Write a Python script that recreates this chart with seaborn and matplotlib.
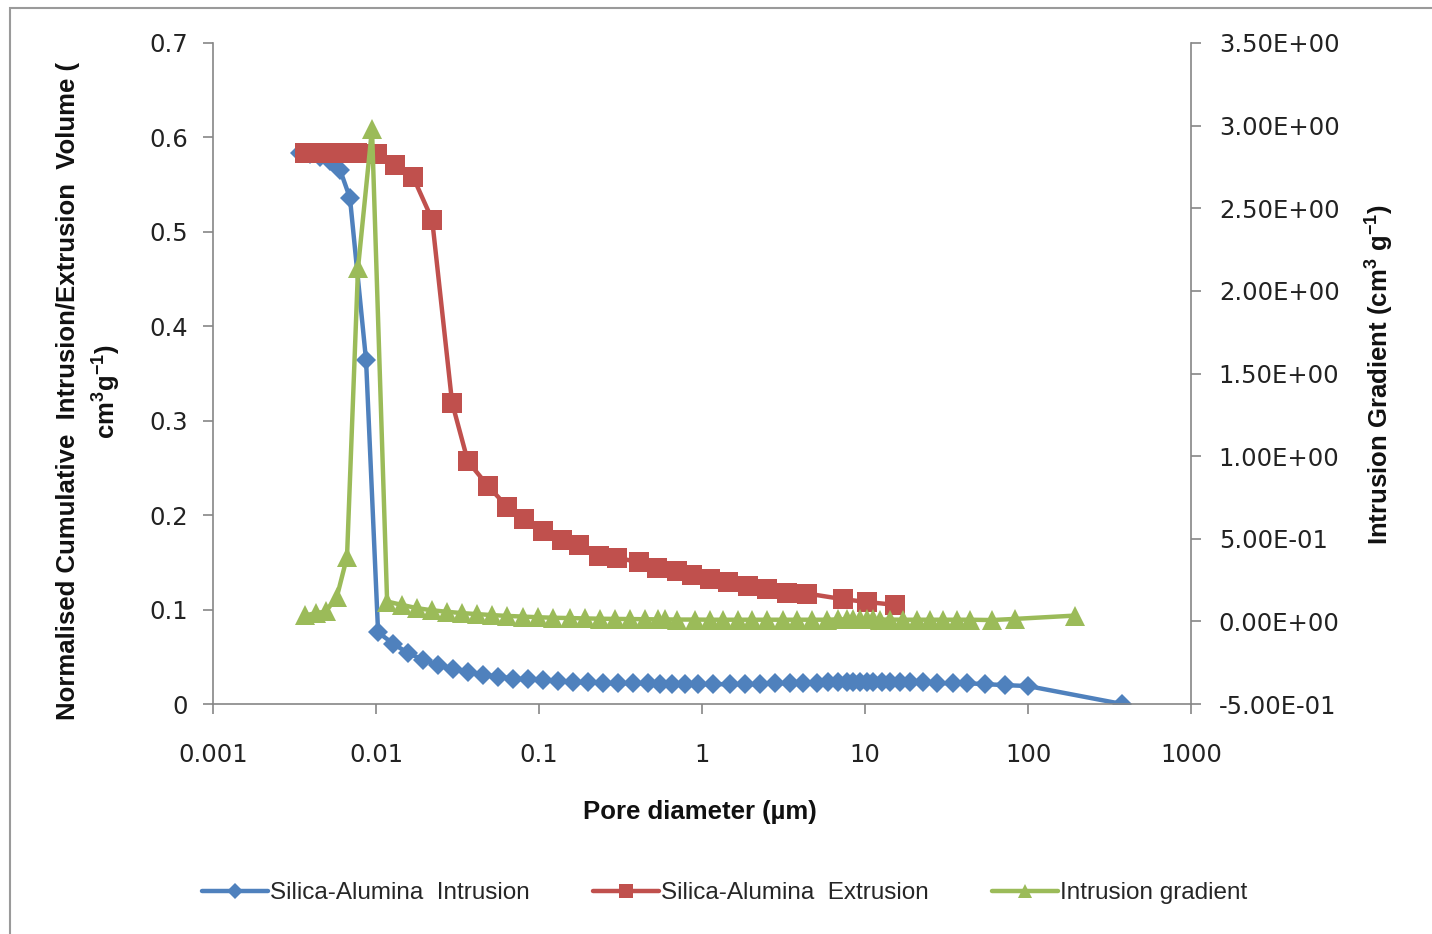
import matplotlib
matplotlib.use("Agg")
import matplotlib.pyplot as plt
import seaborn as sns
import pandas as pd
from matplotlib.lines import Line2D
from matplotlib.patches import Rectangle
from matplotlib.ticker import FuncFormatter, FixedLocator, NullLocator

# ---------------- data ----------------
intr_d = [0.00342, 0.00394, 0.00453, 0.00522, 0.00601, 0.00692, 0.00869, 0.0103, 0.0127, 0.0157,
          0.0194, 0.0240, 0.0296, 0.0366, 0.0453, 0.0560, 0.0692, 0.0856, 0.106, 0.131,
          0.162, 0.200, 0.247, 0.305, 0.377, 0.467, 0.552, 0.654, 0.787, 0.945,
          1.17, 1.48, 1.84, 2.27, 2.81, 3.47, 4.17, 5.08, 5.93, 6.83,
          7.76, 8.44, 9.31, 10.3, 11.2, 12.7, 14.2, 16.4, 18.9, 22.7,
          27.7, 34.7, 42.3, 54.5, 72.3, 100.0, 378.0]
intr_v = [0.584, 0.582, 0.579, 0.575, 0.566, 0.536, 0.364, 0.076, 0.064, 0.054,
          0.047, 0.041, 0.037, 0.034, 0.031, 0.029, 0.027, 0.026, 0.025, 0.024,
          0.023, 0.023, 0.022, 0.022, 0.022, 0.022, 0.021, 0.021, 0.021, 0.021,
          0.021, 0.021, 0.021, 0.021, 0.022, 0.022, 0.022, 0.022, 0.023, 0.023,
          0.023, 0.023, 0.023, 0.023, 0.023, 0.023, 0.023, 0.023, 0.023, 0.023,
          0.022, 0.022, 0.022, 0.021, 0.020, 0.019, 0.0]

extr_d = [0.00367, 0.00422, 0.00487, 0.00560, 0.00645, 0.00764, 0.0101, 0.0131, 0.0169, 0.0221,
          0.0293, 0.0366, 0.0486, 0.0637, 0.0809, 0.106, 0.138, 0.176, 0.233, 0.301,
          0.411, 0.530, 0.703, 0.869, 1.12, 1.44, 1.92, 2.51, 3.32, 4.41,
          7.32, 10.3, 15.3]
extr_v = [0.584, 0.584, 0.584, 0.584, 0.584, 0.584, 0.582, 0.571, 0.558, 0.513,
          0.319, 0.257, 0.231, 0.209, 0.196, 0.183, 0.174, 0.168, 0.157, 0.155,
          0.150, 0.144, 0.141, 0.137, 0.132, 0.129, 0.125, 0.122, 0.118, 0.117,
          0.111, 0.108, 0.105]

grad_d = [0.00367, 0.00429, 0.00493, 0.00576, 0.00664, 0.00776, 0.00945, 0.0117, 0.0144, 0.0178,
          0.0221, 0.0273, 0.0337, 0.0417, 0.0515, 0.0637, 0.0798, 0.0986, 0.122, 0.155,
          0.191, 0.237, 0.292, 0.361, 0.447, 0.537, 0.593, 0.703, 0.906, 1.12,
          1.35, 1.66, 2.03, 2.51, 3.14, 3.83, 4.73, 5.85, 6.83, 7.76,
          8.44, 9.31, 10.3, 11.2, 12.4, 14.2, 17.1, 20.8, 25.1, 30.1,
          36.7, 44.1, 60.1, 83.2, 194.0]
grad_v = [0.036, 0.05, 0.06, 0.15, 0.39, 2.14, 2.98, 0.12, 0.10, 0.08,
          0.067, 0.058, 0.05, 0.044, 0.038, 0.033, 0.029, 0.025, 0.022, 0.02,
          0.018, 0.016, 0.015, 0.014, 0.013, 0.012, 0.012, 0.011, 0.011, 0.01,
          0.01, 0.01, 0.01, 0.01, 0.01, 0.01, 0.01, 0.01, 0.012, 0.012,
          0.012, 0.012, 0.012, 0.012, 0.011, 0.011, 0.01, 0.01, 0.01, 0.01,
          0.01, 0.01, 0.008, 0.015, 0.035]

x_ticks = [0.001, 0.01, 0.1, 1, 10, 100, 1000]
x_tick_labels = ["0.001", "0.01", "0.1", "1", "10", "100", "1000"]
left_ticks = [0, 0.1, 0.2, 0.3, 0.4, 0.5, 0.6, 0.7]
right_ticks = [-0.5, 0, 0.5, 1.0, 1.5, 2.0, 2.5, 3.0, 3.5]

names = ["Silica-Alumina  Intrusion", "Silica-Alumina  Extrusion", "Intrusion gradient"]
BLUE, RED, GREEN = "#4F81BD", "#C0504D", "#9BBB59"
GRAY = "#868686"

df_i = pd.DataFrame({"d": intr_d, "v": intr_v})
df_e = pd.DataFrame({"d": extr_d, "v": extr_v})
df_g = pd.DataFrame({"d": grad_d, "v": grad_v})

# ---------------- figure ----------------
sns.set_style("white")
plt.rcParams["font.family"] = ["DejaVu Sans"]
plt.rcParams["mathtext.fontset"] = "custom"
plt.rcParams["mathtext.rm"] = "Liberation Sans:bold"
plt.rcParams["mathtext.it"] = "Liberation Sans:bold"
plt.rcParams["mathtext.bf"] = "Liberation Sans:bold"

W, H = 1432, 934
fig = plt.figure(figsize=(W / 100, H / 100), dpi=100)
L, R, T, B = 213, 1191, 43, 704
ax = fig.add_axes([L / W, 1 - B / H, (R - L) / W, (B - T) / H])
ax2 = ax.twinx()

# frame around chart
fig.patches.append(Rectangle((10 / W, -0.1), 1.2, 1 - 8 / H + 0.1, transform=fig.transFigure,
                             fill=False, edgecolor="#9a9a9a", lw=1.5))

sns.lineplot(data=df_i, x="d", y="v", ax=ax, sort=False, estimator=None, color=BLUE, lw=3.2,
             marker="D", markersize=10.5, markeredgewidth=0, zorder=2)
sns.lineplot(data=df_e, x="d", y="v", ax=ax, sort=False, estimator=None, color=RED, lw=3.2,
             marker="s", markersize=15, markeredgewidth=0, zorder=3)
sns.lineplot(data=df_g, x="d", y="v", ax=ax2, sort=False, estimator=None, color=GREEN, lw=3.2,
             marker="^", markersize=14, markeredgewidth=0, zorder=3)

for a in (ax, ax2):
    a.set_xscale("log")
    a.set_xlim(0.001, 1000)
    a.set_xlabel("")
    a.set_ylabel("")
    for s in a.spines.values():
        s.set_color(GRAY)
        s.set_linewidth(1.2)
    a.spines["top"].set_visible(False)

ax.set_ylim(0, 0.7)
ax2.set_ylim(-0.5, 3.5)
ax.spines["right"].set_visible(False)
ax2.spines["left"].set_visible(False)
ax2.spines["bottom"].set_visible(False)

ax.xaxis.set_major_locator(FixedLocator(x_ticks))
ax.xaxis.set_minor_locator(NullLocator())
ax.set_xticklabels(x_tick_labels)
ax.set_yticks(left_ticks)
ax.set_yticklabels(["0" if v == 0 else f"{v:.1f}" for v in left_ticks])
ax2.set_yticks(right_ticks)
ax2.yaxis.set_major_formatter(FuncFormatter(lambda v, p: f"{v:.2E}"))

tick_kw = dict(direction="out", length=7, width=1.2, color=GRAY, labelsize=17.5, labelcolor="#222222")
ax.tick_params(axis="x", pad=21, bottom=True, **tick_kw)
ax.tick_params(axis="y", pad=11, left=True, **tick_kw)
ax2.tick_params(axis="y", pad=13, right=True, **tick_kw)

lab_font = dict(family=["Liberation Sans Narrow", "Liberation Sans", "DejaVu Sans"],
                fontweight="bold", fontsize=18.5, color="#111111")
fig.text(68 / W, 1 - 391 / H, "Normalised Cumulative  Intrusion/Extrusion  Volume (",
         rotation=90, ha="center", va="center", **lab_font)
fig.text(107 / W, 1 - 392 / H, r"cm$^{3}$g$^{-1}$)", rotation=90, ha="center", va="center",
         **lab_font)
fig.text(1380 / W, 1 - 375 / H, r"Intrusion Gradient (cm$^{3}$ g$^{-1}$)", rotation=90,
         ha="center", va="center", **lab_font)
fig.text(700 / W, 1 - 812 / H, "Pore diameter (\u00b5m)", ha="center", va="center", **lab_font)

handles = [
    Line2D([], [], color=BLUE, lw=3.2, marker="D", markersize=8, markeredgewidth=0),
    Line2D([], [], color=RED, lw=3.2, marker="s", markersize=10, markeredgewidth=0),
    Line2D([], [], color=GREEN, lw=3.2, marker="^", markersize=10, markeredgewidth=0),
]
leg_font = dict(family=["Liberation Sans Narrow", "Liberation Sans", "DejaVu Sans"], size=17.5)
fig.legend(handles, names, loc="center", bbox_to_anchor=(725 / W, 1 - 893 / H), ncol=3,
           frameon=False, prop=leg_font, handlelength=2.7, handletextpad=0.1, columnspacing=2.6)

fig.savefig("out.png", dpi=100, facecolor="white")
